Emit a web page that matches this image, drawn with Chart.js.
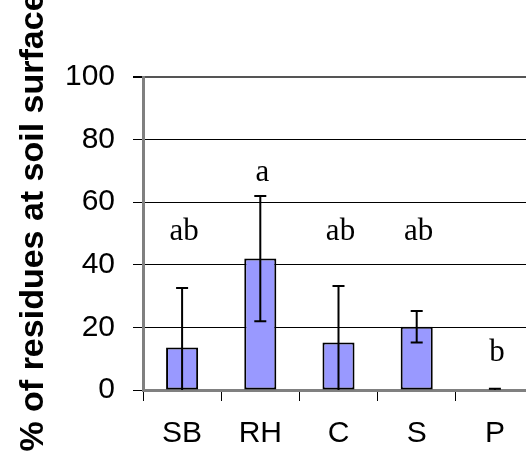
<!DOCTYPE html>
<html>
<head>
<meta charset="utf-8">
<script src="https://cdn.jsdelivr.net/npm/chart.js@4/dist/chart.umd.min.js"></script>
<style>
  html, body { margin: 0; padding: 0; background: #fff; overflow: hidden; }
  #wrap { position: absolute; left: 0; top: 0; width: 534px; height: 457px; }
</style>
</head>
<body>
<div id="wrap"><canvas id="residueChart" width="534" height="457"></canvas></div>
<script>
// chart data
const categories = ['SB', 'RH', 'C', 'S', 'P'];
const meanValues = [13.6, 42, 15.2, 20.2, 0];
const errorValues = [19, 20, 18, 5, 0.4];
const groupLetters = ['ab', 'a', 'ab', 'ab', 'b'];
const letterHeights = [50.5, 69.5, 50.5, 50.5, 11.8];
const yTicks = [0, 20, 40, 60, 80, 100];
const yTitle = '% of residues at soil surface';

// error bars, drawn through the bars and clipped to the plot area
const errorBars = {
    id: 'errorBars',
    afterDatasetsDraw(chart) {
        const ctx = chart.ctx, y = chart.scales.y, area = chart.chartArea;
        const bars = chart.getDatasetMeta(0).data;
        ctx.save();
        ctx.beginPath();
        ctx.rect(area.left, area.top, area.right - area.left, area.bottom - area.top);
        ctx.clip();
        ctx.strokeStyle = '#000';
        ctx.lineWidth = 2;
        bars.forEach((bar, i) => {
            const top = y.getPixelForValue(meanValues[i] + errorValues[i]);
            const bot = y.getPixelForValue(meanValues[i] - errorValues[i]);
            ctx.beginPath();
            ctx.moveTo(bar.x, top); ctx.lineTo(bar.x, bot);
            ctx.moveTo(bar.x - 6, top); ctx.lineTo(bar.x + 6, top);
            ctx.moveTo(bar.x - 6, bot); ctx.lineTo(bar.x + 6, bot);
            ctx.stroke();
        });
        ctx.restore();
    }
};

// significance letters and rotated axis title
const annotations = {
    id: 'annotations',
    afterDraw(chart) {
        const ctx = chart.ctx, x = chart.scales.x, y = chart.scales.y;
        ctx.save();
        ctx.fillStyle = '#000';
        ctx.font = '31px "Liberation Serif", "Times New Roman", serif';
        ctx.textAlign = 'center';
        ctx.textBaseline = 'middle';
        groupLetters.forEach((t, i) => {
            ctx.fillText(t, x.getPixelForValue(i) + 2, y.getPixelForValue(letterHeights[i]));
        });
        ctx.translate(43, 222);
        ctx.rotate(-Math.PI / 2);
        ctx.font = 'bold 34px "Liberation Sans", Arial, sans-serif';
        ctx.textBaseline = 'alphabetic';
        ctx.fillText(yTitle, 0, 0);
        ctx.restore();
    }
};

new Chart(document.getElementById('residueChart').getContext('2d'), {
    type: 'bar',
    data: {
        labels: categories,
        datasets: [{
            data: meanValues,
            backgroundColor: '#9999ff',
            borderColor: '#000',
            borderWidth: 2,
            borderSkipped: false,
            categoryPercentage: 1,
            barPercentage: 0.41
        }]
    },
    options: {
        responsive: false,
        animation: false,
        layout: { padding: { top: 77, right: 0, left: 0, bottom: 0 } },
        plugins: { legend: { display: false }, tooltip: { enabled: false } },
        scales: {
            x: {
                afterFit(s) { s.height = 67; },
                grid: { drawOnChartArea: false, tickLength: 11, tickColor: '#000', lineWidth: 1 },
                border: { color: '#808080', width: 3 },
                ticks: {
                    color: '#000', padding: 15,
                    font: { family: '"Liberation Sans", Arial, sans-serif', size: 30 }
                }
            },
            y: {
                min: 0, max: 100,
                afterFit(s) { s.width = 143; },
                afterBuildTicks(s) { s.ticks = yTicks.map(v => ({ value: v })); },
                grid: {
                    color: c => (c.tick && c.tick.value === 100) ? '#555' : '#000',
                    lineWidth: c => (c.tick && c.tick.value === 100) ? 2 : 1,
                    tickLength: 10,
                    tickColor: '#000'
                },
                border: { color: '#808080', width: 3 },
                ticks: {
                    color: '#000', padding: 18,
                    font: { family: '"Liberation Sans", Arial, sans-serif', size: 30 }
                }
            }
        }
    },
    plugins: [errorBars, annotations]
});
</script>
</body>
</html>
